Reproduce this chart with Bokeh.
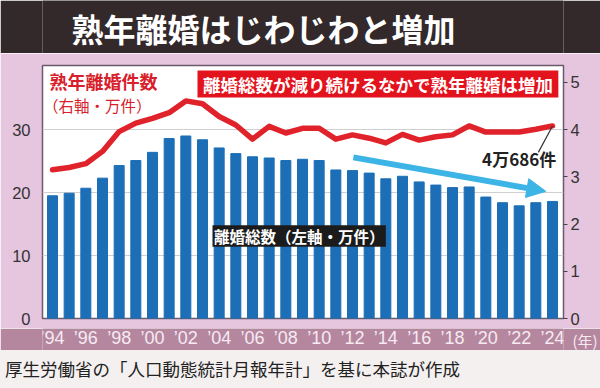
from bokeh.plotting import figure
from bokeh.models import (Range1d, LinearAxis, FixedTicker, Arrow, NormalHead, Div)
from bokeh.layouts import column
from bokeh.embed import file_html
from bokeh.resources import INLINE
from bokeh.core.properties import value

# ---------------- data ----------------
years = list(range(1994, 2025))
# 離婚総数 (万件, left axis)
total_divorces = [19.5, 19.9, 20.7, 22.3, 24.3, 25.1, 26.4, 28.6, 29.0, 28.4,
                  27.1, 26.2, 25.7, 25.5, 25.1, 25.3, 25.1, 23.6, 23.5, 23.1,
                  22.2, 22.6, 21.7, 21.2, 20.8, 20.9, 19.3, 18.4, 17.9, 18.4, 18.6]
# 熟年離婚件数 (万件, right axis)
mature_divorces = [3.15, 3.20, 3.28, 3.54, 3.96, 4.14, 4.24, 4.36, 4.61, 4.55,
                   4.28, 4.10, 3.80, 4.07, 3.93, 4.03, 4.03, 3.80, 3.89, 3.82,
                   3.72, 3.90, 3.78, 3.85, 3.89, 4.08, 3.95, 3.95, 3.95, 4.01, 4.08]
tick_years = list(range(1994, 2025, 2))
tick_labels = ["’94", "’96", "’98", "’00", "’02", "’04", "’06", "’08",
               "’10", "’12", "’14", "’16", "’18", "’20", "’22", "’24"]
left_ticks = [0, 10, 20, 30]
left_grid = [10, 20, 30]
right_ticks = [0, 1, 2, 3, 4, 5]
last_label = "4万686件"
trend_start = (2012.05, 25.6)
trend_end = (2023.6, 20.2)

title_text = "熟年離婚はじわじわと増加"
banner_text = "離婚総数が減り続けるなかで熟年離婚は増加"
right_name = ["熟年離婚件数", "（右軸・万件）"]
left_name = "離婚総数（左軸・万件）"
source_text = "厚生労働省の「人口動態統計月報年計」を基に本誌が作成"
year_unit = "(年)"

# ---------------- styles ----------------
JP = "Noto Sans CJK JP"
NUM = "Liberation Sans"
PINK = "#e6c5df"
MAUVE = "#b4879f"
BLUE = "#1c6fb6"
RED = "#e0232b"
W = 600
FL, FR = 42, 563              # frame left / right in page pixels
BL, BR = FL, W - FR
X0, X1 = 1993.4, 2024.66
YL = (0, 40.2)
YR = (0, 5.36)
PX = (FR - FL) / (X1 - X0)

# ---------------- title bar ----------------
pt = figure(width=W, height=53, x_range=Range1d(FL, FR), y_range=Range1d(53, 0),
            toolbar_location=None, output_backend="svg",
            x_axis_location=None, y_axis_location=None,
            min_border_left=BL, min_border_right=BR,
            min_border_top=0, min_border_bottom=0)
pt.background_fill_color = "#33282a"
pt.border_fill_color = "#33282a"
pt.outline_line_color = None
pt.grid.visible = False
pt.text(x=[263], y=[27], text=[title_text], text_font=value(JP), text_font_size="32px",
        text_font_style="bold", text_color="white", text_align="center",
        text_baseline="middle")

# ---------------- main chart ----------------
p = figure(width=W, height=275, x_range=Range1d(X0, X1), y_range=Range1d(*YL),
           toolbar_location=None, output_backend="svg", x_axis_location=None,
           min_border_left=BL, min_border_right=BR, min_border_top=12,
           min_border_bottom=10)
p.extra_y_ranges = {"right": Range1d(*YR)}
p.background_fill_color = "white"
p.border_fill_color = PINK
p.outline_line_color = "#6b5a6b"
p.outline_line_width = 1.5
p.xgrid.visible = False
p.ygrid.ticker = FixedTicker(ticks=left_grid)
p.ygrid.grid_line_color = "#cfcfcf"

ya = p.yaxis[0]
ya.ticker = FixedTicker(ticks=left_ticks)
ya.axis_line_color = None
ya.major_tick_line_color = None
ya.minor_tick_line_color = None
ya.major_label_standoff = 6
ya.major_label_text_font = NUM
ya.major_label_text_font_size = "16.5px"
ya.major_label_text_color = "#333333"

ra = LinearAxis(y_range_name="right", ticker=FixedTicker(ticks=right_ticks))
ra.axis_line_color = None
ra.major_tick_line_color = "#444444"
ra.major_tick_out = 4
ra.major_tick_in = 0
ra.minor_tick_line_color = None
ra.major_label_standoff = 3
ra.major_label_text_font = NUM
ra.major_label_text_font_size = "16.5px"
ra.major_label_text_color = "#333333"
p.add_layout(ra, "right")

p.vbar(x=years, top=total_divorces, width=0.6, color=BLUE)

p.line(x=years, y=mature_divorces, y_range_name="right", line_color=RED,
       line_width=5.5, line_join="round", line_cap="round")

# trend arrow
p.add_layout(Arrow(end=NormalHead(size=19, fill_color="#3db4e6", line_color="#3db4e6"),
                   x_start=trend_start[0], y_start=trend_start[1],
                   x_end=trend_end[0], y_end=trend_end[1],
                   line_color="#3db4e6", line_width=6))

# red banner
p.quad(left=[2002.7], right=[2024.35], bottom=[35.1], top=[39.4],
       fill_color="#e3131d", line_color=None)
p.text(x=[(2002.7 + 2024.35) / 2], y=[37.25], text=[banner_text], text_font=value(JP),
       text_font_size="17.5px", text_font_style="bold", text_color="white",
       text_align="center", text_baseline="middle")

# right-series name
p.text(x=[X0 + 7 / PX], y=[37.8], text=[right_name[0]], text_font=value(JP),
       text_font_size="18px", text_font_style="bold", text_color="#d8202b",
       text_align="left", text_baseline="middle")
p.text(x=[X0 + 0.5 / PX], y=[33.9], text=[right_name[1]], text_font=value(JP),
       text_font_size="15.5px", text_color="#d8202b",
       text_align="left", text_baseline="middle")

# black left-series label
p.quad(left=[2003.6], right=[2014.0], bottom=[11.4], top=[14.8],
       fill_color="#1b1b1b", line_color=None)
p.text(x=[2008.8], y=[13.1], text=[left_name], text_font=value(JP),
       text_font_size="15.5px", text_font_style="bold", text_color="white",
       text_align="center", text_baseline="middle")

# last value annotation
p.line(x=[years[-1], 2023.15], y=[mature_divorces[-1], 3.52], y_range_name="right",
       line_color="#333333", line_width=1.2)
p.text(x=[2022.0], y=[25.4], text=[last_label], text_font=value(JP),
       text_font_size="17px", text_font_style="bold", text_color="#222222",
       text_align="center", text_baseline="middle")

# ---------------- x tick band ----------------
pb = figure(width=W, height=22, x_range=p.x_range, y_range=Range1d(22, 0),
            toolbar_location=None, output_backend="svg",
            x_axis_location=None, y_axis_location=None,
            min_border_left=BL, min_border_right=BR, min_border_top=0,
            min_border_bottom=0)
pb.background_fill_color = MAUVE
pb.border_fill_color = MAUVE
pb.outline_line_color = None
pb.grid.visible = False
pb.text(x=tick_years, y=[9] * len(tick_years), text=tick_labels,
        text_font=value(NUM), text_font_size="18px", text_color="#f7eaf3",
        text_align="center", text_baseline="middle")
ua = LinearAxis(ticker=FixedTicker(ticks=[9]), major_label_overrides={9: year_unit})
ua.axis_line_color = None
ua.major_tick_line_color = None
ua.minor_tick_line_color = None
ua.major_label_standoff = 3
ua.major_label_text_font = JP
ua.major_label_text_font_size = "15px"
ua.major_label_text_color = "#f7eaf3"
pb.add_layout(ua, "right")

# ---------------- footer ----------------
pf = Div(text=("<div style=\"padding-left:5px; line-height:38px; height:38px; "
               "font-family:'Noto Sans CJK JP'; font-size:17.5px; color:#222222; "
               "white-space:nowrap; overflow:hidden;\">" + source_text + "</div>"),
         width=W, height=38,
         styles={"background-color": "#f4f0f0", "overflow": "hidden", "margin": "0"})

layout = column(pt, p, pb, pf, spacing=0)
open("out.html", "w").write(file_html(layout, INLINE))
